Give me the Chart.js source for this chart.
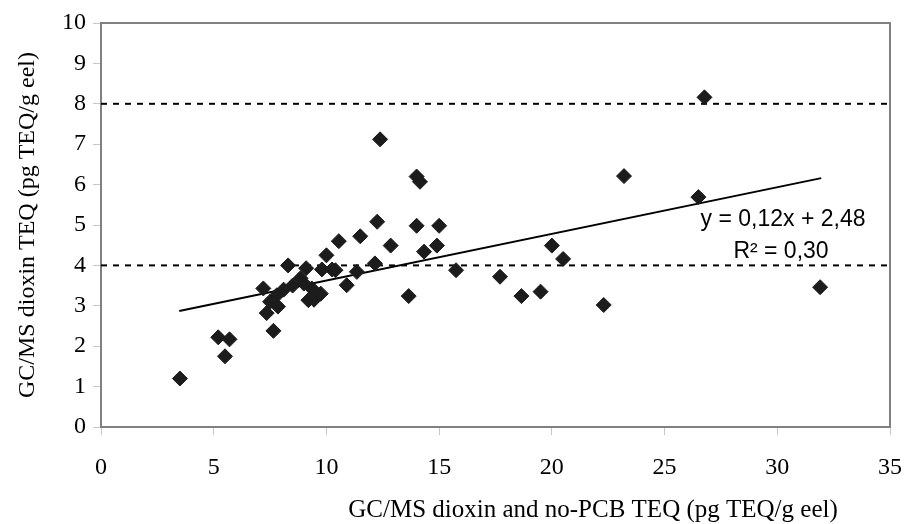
<!DOCTYPE html>
<html lang="en">
<head>
    <meta charset="UTF-8">
    <title>GC/MS dioxin TEQ vs dioxin and no-PCB TEQ</title>
    <script src="https://cdn.jsdelivr.net/npm/chart.js"></script>
    <style>
        body { margin: 0; background: #fff; }
        .chart-box { width: 904px; height: 524px; }
    </style>
</head>
<body>
    <div class="chart-box"><canvas id="teqChart"></canvas></div>

    <script>
        // Measured eel samples (x = dioxin + no-PCB TEQ, y = dioxin TEQ)
        const sampleX = [3.5, 5.2, 5.5, 5.7, 7.65, 7.2, 7.35, 7.5, 7.85, 7.8, 8.1, 8.3, 8.5, 8.85, 9.1,
                         9.2, 9.35, 9.45, 9.75, 9.8, 10.0, 10.25, 10.4, 10.55, 10.9, 11.35, 11.5, 12.15, 12.25, 12.38,
                         12.85, 13.65, 14.0, 14.0, 14.15, 14.33, 14.9, 15.0, 15.75, 17.7, 18.65, 19.5, 20.0, 20.5, 22.3,
                         23.2, 26.5, 26.77, 31.9, 9.0];
        const sampleY = [1.2, 2.22, 1.75, 2.17, 2.38, 3.43, 2.82, 3.1, 2.98, 3.26, 3.4, 4.0, 3.5, 3.68, 3.93,
                         3.14, 3.43, 3.15, 3.3, 3.9, 4.25, 3.9, 3.88, 4.6, 3.51, 3.84, 4.72, 4.05, 5.08, 7.12,
                         4.49, 3.24, 4.98, 6.2, 6.07, 4.34, 4.49, 4.98, 3.88, 3.72, 3.24, 3.35, 4.49, 4.16, 3.02,
                         6.21, 5.69, 8.16, 3.46, 3.55];

        // Trend line end points as drawn (y = 0,12x + 2,48)
        const trendX = [3.47, 31.95];
        const trendY = [2.87, 6.16];

        // Dotted reference levels
        const limitLevels = [4, 8];

        const equationText = 'y = 0,12x + 2,48';
        const r2Text = 'R\u00b2 = 0,30';
        const xTitle = 'GC/MS dioxin and no-PCB TEQ (pg TEQ/g eel)';
        const yTitle = 'GC/MS dioxin TEQ (pg TEQ/g eel)';

        const serif = '"Liberation Serif", "Times New Roman", serif';
        const sans = '"Liberation Sans", Arial, sans-serif';

        let samplePoints = sampleX.map((x, i) => ({ x: x, y: sampleY[i] }));
        let trendPoints = trendX.map((x, i) => ({ x: x, y: trendY[i] }));

        let limitSets = limitLevels.map(level => ({
            type: 'line',
            data: [{ x: 0, y: level }, { x: 35, y: level }],
            borderColor: '#000',
            borderWidth: 2,
            borderDash: [6, 6],
            pointRadius: 0,
            order: 2
        }));

        // frame round the plot area plus the regression labels and x title
        const extras = {
            id: 'extras',
            beforeDatasetsDraw(chart) {
                const a = chart.chartArea;
                const ctx = chart.ctx;
                ctx.save();
                ctx.strokeStyle = '#808080';
                ctx.lineWidth = 2;
                ctx.strokeRect(a.left, a.top, a.right - a.left, a.bottom - a.top);
                ctx.restore();
            },
            afterDraw(chart) {
                const ctx = chart.ctx;
                ctx.save();
                ctx.fillStyle = '#000';
                ctx.textAlign = 'center';
                ctx.textBaseline = 'middle';
                ctx.font = '23px ' + sans;
                ctx.fillText(equationText, 783, 220);
                ctx.fillText(r2Text, 781, 252);
                ctx.font = '25px ' + serif;
                ctx.fillText(xTitle, 593, 510);
                ctx.restore();
            }
        };

        let teqChart = new Chart(document.getElementById('teqChart'), {
            type: 'scatter',
            data: {
                datasets: [
                    {
                        data: samplePoints,
                        pointStyle: 'rectRot',
                        pointRadius: 7.5,
                        pointBackgroundColor: '#1c1c1c',
                        pointBorderColor: '#1c1c1c',
                        pointBorderWidth: 1,
                        order: 0
                    },
                    {
                        type: 'line',
                        data: trendPoints,
                        borderColor: '#000',
                        borderWidth: 2,
                        pointRadius: 0,
                        order: 1
                    },
                    ...limitSets
                ]
            },
            options: {
                responsive: true,
                maintainAspectRatio: false,
                animation: false,
                layout: { padding: { top: 23, right: 14, bottom: 0, left: 0 } },
                plugins: {
                    legend: { display: false },
                    tooltip: { enabled: false }
                },
                scales: {
                    x: {
                        type: 'linear',
                        min: 0,
                        max: 35,
                        afterFit: scale => {
                            scale.height = 97;
                            scale.paddingLeft = 0;
                            scale.paddingRight = 0;
                        },
                        ticks: {
                            stepSize: 5,
                            padding: 18,
                            color: '#000',
                            font: { family: serif, size: 24 }
                        },
                        grid: { drawOnChartArea: false, drawTicks: true, tickLength: 8, color: '#c8c8c8' },
                        border: { color: '#808080', width: 2 }
                    },
                    y: {
                        type: 'linear',
                        min: 0,
                        max: 10,
                        afterFit: scale => {
                            scale.width = 101;
                            scale.paddingTop = 0;
                            scale.paddingBottom = 0;
                        },
                        ticks: {
                            stepSize: 1,
                            padding: 7,
                            color: '#000',
                            font: { family: serif, size: 24 }
                        },
                        grid: { drawOnChartArea: false, drawTicks: true, tickLength: 8, color: '#c8c8c8' },
                        border: { color: '#808080', width: 2 },
                        title: {
                            display: true,
                            text: yTitle,
                            color: '#000',
                            padding: { top: 13, bottom: 0 },
                            font: { family: serif, size: 24, weight: 'normal' }
                        }
                    }
                }
            },
            plugins: [extras]
        });
    </script>
</body>
</html>
